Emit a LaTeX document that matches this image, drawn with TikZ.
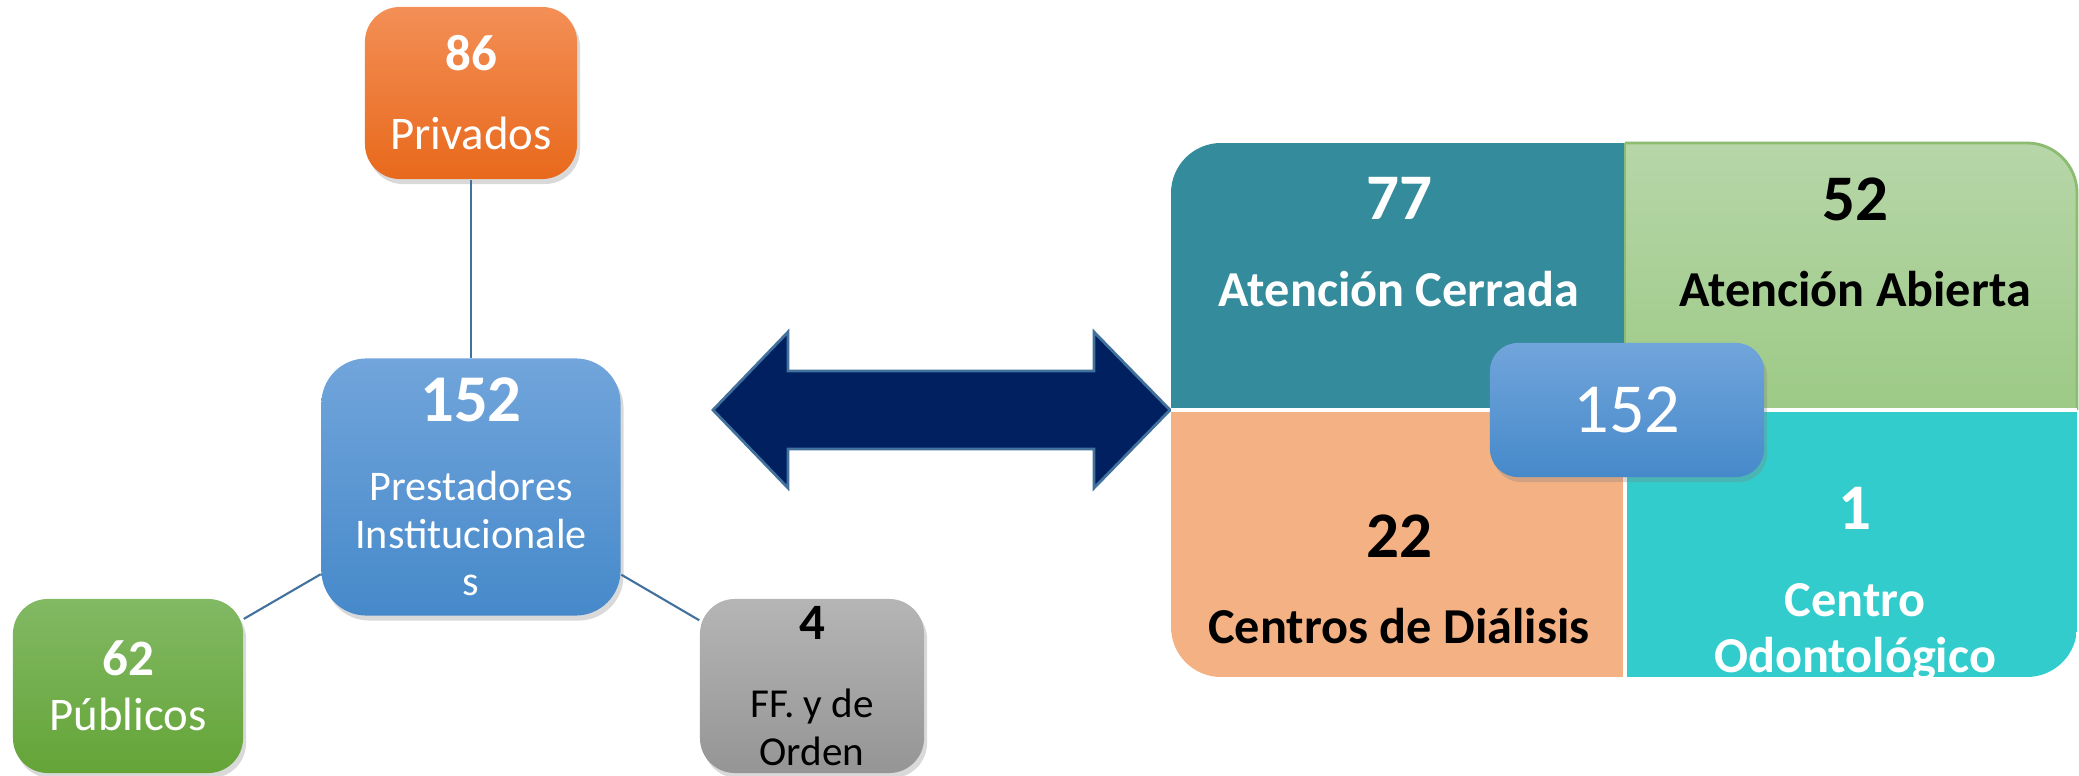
\documentclass[tikz,border=0pt]{standalone}
\usepackage{fontspec}
\setmainfont{Carlito}
\usepackage{xcolor}
\usetikzlibrary{shapes,arrows}
\usetikzlibrary{positioning,shadows}
\definecolor{privTop}{HTML}{F38F56}
\definecolor{privBot}{HTML}{E8691C}
\definecolor{blueTop}{HTML}{71A5DB}
\definecolor{blueBot}{HTML}{4689CA}
\definecolor{pubTop}{HTML}{82B964}
\definecolor{pubBot}{HTML}{64A437}
\definecolor{greyTop}{HTML}{B5B5B5}
\definecolor{greyBot}{HTML}{959595}
\definecolor{linkblue}{HTML}{41719C}
\definecolor{navy}{HTML}{002060}
\definecolor{tealq}{HTML}{348B9B}
\definecolor{greenTop}{HTML}{B6D6A8}
\definecolor{greenBot}{HTML}{9DCA86}
\definecolor{greenEdge}{HTML}{8CBB72}
\definecolor{salmonq}{HTML}{F4B183}
\definecolor{turqq}{HTML}{33CCCC}

\begin{document}
\begin{tikzpicture}[x=0.01cm,y=0.01cm,
	box_node/.style={rectangle,rounded corners=0.35cm,inner sep=0pt,align=center,text=white,drop shadow={shadow xshift=0.03cm,shadow yshift=-0.05cm,opacity=0.3}},
	quad_text/.style={anchor=north,inner sep=0pt,align=center,font=\fontsize{14.3}{16}\selectfont\bfseries},
	link/.style={draw=linkblue,line width=0.6pt}]
	\useasboundingbox (0,0) rectangle (2079,776);
	% left side: total and its three groups
	\node[box_node,top color=privTop,bottom color=privBot,minimum width=2.12cm,minimum height=1.72cm,font=\fontsize{13.3}{16}\selectfont](priv) at (471,683){{\bfseries\fontsize{14.5}{16}\selectfont 86}\\[6.5pt]Privados};
	\node[box_node,rounded corners=0.45cm,top color=blueTop,bottom color=blueBot,minimum width=2.99cm,minimum height=2.57cm,font=\fontsize{12}{13.5}\selectfont](total) at (471,289){{\bfseries\fontsize{19}{20}\selectfont 152}\\[9pt]Prestadores\\Institucionale\\s};
	\node[box_node,top color=pubTop,bottom color=pubBot,minimum width=2.30cm,minimum height=1.74cm,font=\fontsize{13.3}{15.6}\selectfont](pub) at (128,90){{\bfseries\fontsize{14.5}{16}\selectfont 62}\\Públicos};
	\node[box_node,top color=greyTop,bottom color=greyBot,text=black,minimum width=2.24cm,minimum height=1.74cm,font=\fontsize{11.7}{13.7}\selectfont](ff) at (812,90){{\bfseries\fontsize{14.5}{16}\selectfont 4}\\[8.5pt]FF. y de\\Orden};
	\path[link]
	(priv) edge (total)
	(total) edge (pub)
	(total) edge (ff);
	% double arrow
	\draw[fill=navy,draw=linkblue,line width=0.8pt] (713,366) -- (788,444) -- (788,405) -- (1094,405) -- (1094,444) -- (1170,366) -- (1094,288) -- (1094,327) -- (788,327) -- (788,288) -- cycle;
	% right side: four quadrants
	\begin{scope}
		\clip[rounded corners=0.5cm] (1171,99) rectangle (2077,633);
		\fill[tealq] (1171,366) rectangle (1625,633);
		\shade[top color=greenTop,bottom color=greenBot,draw=greenEdge,line width=0.8pt] (1625,366) rectangle (2077,633);
		\fill[salmonq] (1171,99) rectangle (1625,366);
		\fill[turqq] (1625,99) rectangle (2077,366);
	\end{scope}
	\draw[greenEdge,line width=0.8pt,rounded corners=0.5cm] (1625,633) -- (2077,633) -- (2077,366);
	\draw[white,line width=1.2pt] (1171,366) -- (2077,366) (1625,99) -- (1625,366);
	\node[quad_text,text=white](cerrada) at (1399,599){{\fontsize{18.5}{20}\selectfont 77}\\[8.5pt]Atención Cerrada};
	\node[quad_text,text=black](abierta) at (1855,599){{\fontsize{18.5}{20}\selectfont 52}\\[8.5pt]Atención Abierta};
	\node[quad_text,text=black](dialisis) at (1399,262){{\fontsize{18.5}{20}\selectfont 22}\\[8.5pt]Centros de Diálisis};
	\node[quad_text,text=white](odonto) at (1855,289){{\fontsize{18.5}{20}\selectfont 1}\\[8.5pt]Centro\\Odontológico};
	\node[box_node,rounded corners=0.28cm,top color=blueTop,bottom color=blueBot,minimum width=2.74cm,minimum height=1.34cm,font=\fontsize{20}{22}\selectfont](mid) at (1627,366){152};
\end{tikzpicture}
\end{document}
